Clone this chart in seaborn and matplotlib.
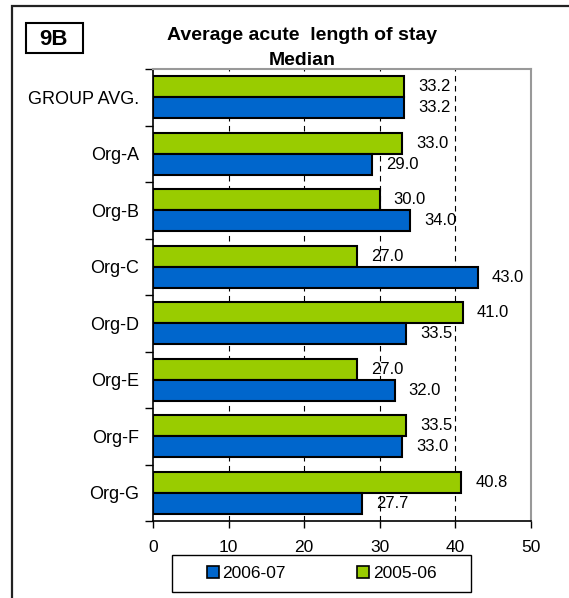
import pandas as pd
import matplotlib
matplotlib.use("Agg")
import matplotlib.pyplot as plt
from matplotlib.patches import Rectangle, Patch
import seaborn as sns

# values
orgs = ["GROUP AVG.", "Org-A", "Org-B", "Org-C", "Org-D", "Org-E", "Org-F", "Org-G"]
los_2005_06 = [33.2, 33.0, 30.0, 27.0, 41.0, 27.0, 33.5, 40.8]
los_2006_07 = [33.2, 29.0, 34.0, 43.0, 33.5, 32.0, 33.0, 27.7]
years = ["2005-06", "2006-07"]
colors = {"2005-06": "#99CC00", "2006-07": "#0066CC"}
x_ticks = [0, 10, 20, 30, 40, 50]

sns.set_style("white")
plt.rcParams["font.family"] = ["Liberation Sans", "DejaVu Sans"]
for key in ["text.color", "xtick.color", "ytick.color", "axes.labelcolor"]:
    plt.rcParams[key] = "black"

W, H = 569, 598  # figure size in px, used for placing things


def fx(px):
    return px / W


def fy(px):
    return 1 - px / H


df = pd.DataFrame({
    "org": orgs * 2,
    "year": ["2005-06"] * len(orgs) + ["2006-07"] * len(orgs),
    "los": los_2005_06 + los_2006_07,
})

fig = plt.figure(figsize=(W / 100, H / 100), dpi=100)
ax = fig.add_axes([fx(153), fy(521), 378 / W, 452 / H])

# dashed grid behind the bars
for t in x_ticks[1:-1]:
    ax.axvline(t, color="black", lw=0.8, ls=(0, (5, 4)), zorder=0)

sns.barplot(data=df, y="org", x="los", hue="year", hue_order=years,
            order=orgs, palette=colors, saturation=1, width=0.75, orient="h",
            edgecolor="black", linewidth=1.5, ax=ax, legend=False, zorder=2)

# value labels to the right of each bar
for cont in ax.containers:
    ax.bar_label(cont, fmt="%.1f", padding=10, fontsize=12, color="black")

ax.set_xlim(0, 50)
ax.set_ylim(len(orgs) - 0.5, -0.5)
ax.set_xticks(x_ticks)
ax.set_xticklabels([str(t) for t in x_ticks], fontsize=12.5)
ax.tick_params(axis="x", direction="out", length=5, width=1, color="black",
               bottom=True, pad=9)
ax.set_yticks(range(len(orgs)))
ax.set_yticklabels(orgs, fontsize=13)
ax.tick_params(axis="y", length=0, pad=10)
ax.set_yticks([i - 0.5 for i in range(len(orgs) + 1)], minor=True)
ax.tick_params(axis="y", which="minor", direction="out", length=6, width=1,
               color="black", left=True)
ax.set_xlabel("")
ax.set_ylabel("")

for side in ["left", "bottom"]:
    ax.spines[side].set_color("black")
    ax.spines[side].set_linewidth(1.2)
for side in ["top", "right"]:
    ax.spines[side].set_color("#999999")
    ax.spines[side].set_linewidth(1.5)

# outer frame (continues past the right and bottom edges)
fig.patches.append(Rectangle((fx(12), -0.1), 1.2, 1.1 - 6 / H,
                             transform=fig.transFigure, fill=False,
                             edgecolor="#222222", lw=1.6))

fig.text(fx(302), fy(40), "Average acute  length of stay", ha="center",
         va="baseline", fontsize=14, fontweight="bold")
fig.text(fx(302), fy(65), "Median", ha="center", va="baseline",
         fontsize=14, fontweight="bold")

# "9B" tag
fig.patches.append(Rectangle((fx(26), fy(53)), 57 / W, 30 / H,
                             transform=fig.transFigure, facecolor="white",
                             edgecolor="black", lw=1.5))
fig.text(fx(54), fy(45), "9B", ha="center", va="baseline",
         fontsize=16, fontweight="bold")

# legend, box drawn separately so its padding can match
fig.patches.append(Rectangle((fx(172), fy(592)), 299 / W, 37 / H,
                             transform=fig.transFigure, facecolor="white",
                             edgecolor="black", lw=1.0))
handles = [Patch(facecolor=colors["2006-07"], edgecolor="black", lw=1.2),
           Patch(facecolor=colors["2005-06"], edgecolor="black", lw=1.2)]
fig.legend(handles, ["2006-07", "2005-06"], ncol=2, loc="center",
           bbox_to_anchor=(fx(321.5), fy(573.5)), fontsize=12.5,
           frameon=False, handlelength=0.7, handleheight=0.7,
           handletextpad=0.2, columnspacing=4.1, borderpad=0,
           borderaxespad=0)

fig.savefig("out.png", dpi=100)
